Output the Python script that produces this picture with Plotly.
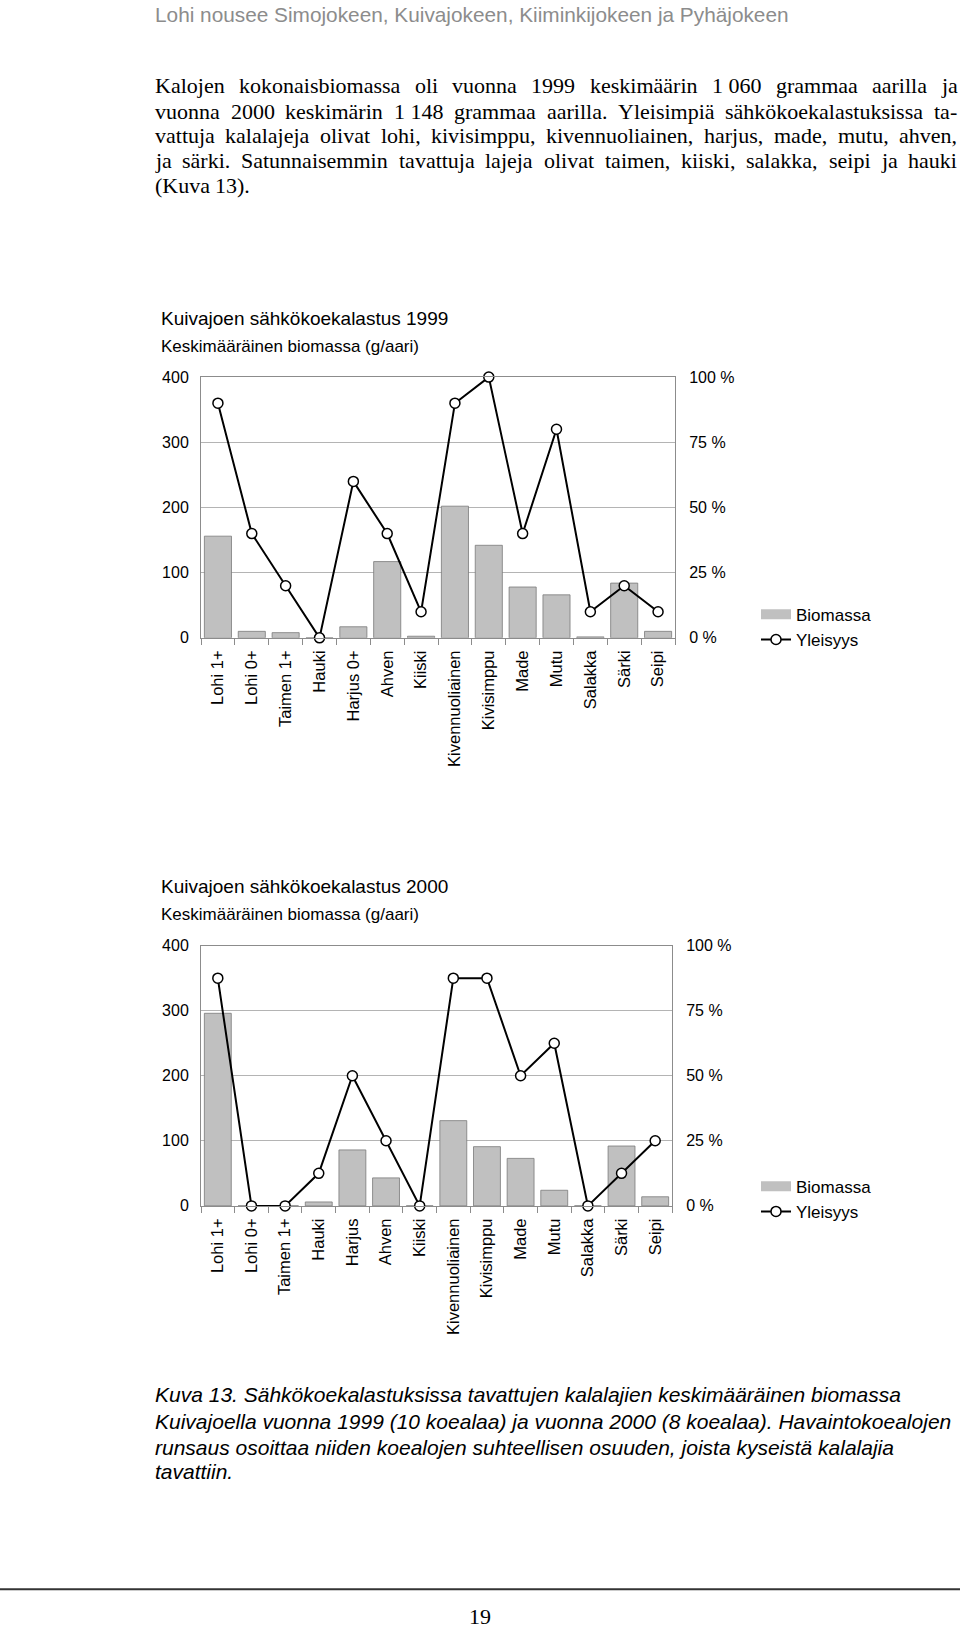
import plotly.graph_objects as go

W, H = 960, 1630

# ---------------- data ----------------
categories_1999 = ["Lohi 1+", "Lohi 0+", "Taimen 1+", "Hauki", "Harjus 0+", "Ahven", "Kiiski",
                   "Kivennuoliainen", "Kivisimppu", "Made", "Mutu", "Salakka", "Särki", "Seipi"]
biomassa_1999 = [156, 10, 8, 0, 17, 117, 2.5, 202, 142, 78, 66, 1.5, 84, 10]
yleisyys_1999 = [90, 40, 20, 0, 60, 40, 10, 90, 100, 40, 80, 10, 20, 10]

categories_2000 = ["Lohi 1+", "Lohi 0+", "Taimen 1+", "Hauki", "Harjus", "Ahven", "Kiiski",
                   "Kivennuoliainen", "Kivisimppu", "Made", "Mutu", "Salakka", "Särki", "Seipi"]
biomassa_2000 = [296, 0, 0, 6, 86, 43, 0, 131, 91, 73, 24, 0, 92, 14]
yleisyys_2000 = [87.5, 0, 0, 12.5, 50, 25, 0, 87.5, 87.5, 50, 62.5, 0, 12.5, 25]

left_ticks = [0, 100, 200, 300, 400]
right_ticks = [0, 25, 50, 75, 100]
right_tick_labels = ["0 %", "25 %", "50 %", "75 %", "100 %"]

header_text = "Lohi nousee Simojokeen, Kuivajokeen, Kiiminkijokeen ja Pyhäjokeen"
body_lines = [
    "Kalojen kokonaisbiomassa oli vuonna 1999 keskimäärin 1\u00a0060 grammaa aarilla ja",
    "vuonna 2000 keskimärin 1\u00a0148 grammaa aarilla. Yleisimpiä sähkökoekalastuksissa ta-",
    "vattuja kalalajeja olivat lohi, kivisimppu, kivennuoliainen, harjus, made, mutu, ahven,",
    "ja särki. Satunnaisemmin tavattuja lajeja olivat taimen, kiiski, salakka, seipi ja hauki",
    "(Kuva 13).",
]
caption_lines = [
    "Kuva 13. Sähkökoekalastuksissa tavattujen kalalajien keskimääräinen biomassa",
    "Kuivajoella vuonna 1999 (10 koealaa) ja vuonna 2000 (8 koealaa). Havaintokoealojen",
    "runsaus osoittaa niiden koealojen suhteellisen osuuden, joista kyseistä kalalajia",
    "tavattiin.",
]
titles = ["Kuivajoen sähkökoekalastus 1999", "Kuivajoen sähkökoekalastus 2000"]
subtitle = "Keskimääräinen biomassa (g/aari)"
page_number = "19"

# ---------------- style ----------------
SANS = "Liberation Sans, Arial, Helvetica, sans-serif"
SERIF = "Liberation Serif, Times New Roman, serif"
GRID = "#b4b4b4"
AXIS = "#8c8c8c"
BAR = "#c0c0c0"
BAR_EDGE = "#7a7a7a"


def px(x):
    return x / W


def py(y):
    return 1 - y / H


# Times metrics (1/1000 em) for justified body text
TNR = {' ': 250, '\u00a0': 250, '(': 333, ')': 333, ',': 250, '-': 333, '.': 250,
       'K': 722, 'Y': 722, 'S': 556,
       'a': 444, 'b': 500, 'c': 444, 'd': 500, 'e': 444, 'f': 333, 'g': 500, 'h': 500,
       'i': 278, 'j': 278, 'k': 500, 'l': 278, 'm': 778, 'n': 500, 'o': 500, 'p': 500,
       'q': 500, 'r': 333, 's': 389, 't': 278, 'u': 500, 'v': 500, 'w': 722, 'x': 500,
       'y': 500, 'z': 444, 'ä': 444, 'ö': 500}


def tw(s, size):
    return sum(TNR.get(c, 500) for c in s) * size / 1000.0


fig = go.Figure()

plots = [
    dict(cats=categories_1999, bio=biomassa_1999, yl=yleisyys_1999,
         xa="x", ya="y", ya2="y2", legend="legend",
         xdom=(201, 675), ytop=373, ybot=636.5),
    dict(cats=categories_2000, bio=biomassa_2000, yl=yleisyys_2000,
         xa="x2", ya="y3", ya2="y4", legend="legend2",
         xdom=(201, 672), ytop=947.5, ybot=1210.5),
]

for p in plots:
    fig.add_trace(go.Bar(
        x=p["cats"], y=p["bio"], xaxis=p["xa"], yaxis=p["ya"], name="Biomassa",
        legend=p["legend"], showlegend=False,
        marker=dict(color=BAR, line=dict(color=BAR_EDGE, width=0.8)),
    ))
    # legend-only entry giving the wide grey swatch of the original legend
    fig.add_trace(go.Scatter(
        x=[None], y=[None], xaxis=p["xa"], yaxis=p["ya"], name="Biomassa",
        legend=p["legend"], mode="lines", hoverinfo="skip",
        line=dict(color=BAR, width=11),
    ))
    fig.add_trace(go.Scatter(
        x=p["cats"], y=p["yl"], xaxis=p["xa"], yaxis=p["ya2"], name="Yleisyys",
        legend=p["legend"], mode="lines+markers", cliponaxis=False,
        line=dict(color="black", width=2),
        marker=dict(symbol="circle", size=10, color="white",
                    line=dict(color="black", width=1.5)),
    ))

layout = dict(
    width=W, height=H, margin=dict(l=0, r=0, t=0, b=0),
    paper_bgcolor="white", plot_bgcolor="white",
    bargap=0.2, showlegend=True,
    font=dict(family=SANS, color="black", size=16),
)

for i, p in enumerate(plots):
    xk = "xaxis" if i == 0 else "xaxis2"
    yk = "yaxis" if i == 0 else "yaxis3"
    y2k = "yaxis2" if i == 0 else "yaxis4"
    ydom = [py(p["ybot"]), py(p["ytop"])]
    n = len(p["cats"])
    layout[xk] = dict(
        domain=[px(p["xdom"][0]), px(p["xdom"][1])], anchor=p["ya"],
        type="category", range=[-0.5, n - 0.5], autorange=False,
        tickson="boundaries", ticks="outside", ticklen=6,
        tickcolor=AXIS, tickwidth=1, showline=True, linecolor=AXIS, linewidth=1,
        mirror=True, showgrid=False, tickangle=-90,
        tickfont=dict(family=SANS, size=16.5, color="black"),
        ticklabelstandoff=5, fixedrange=True,
    )
    layout[yk] = dict(
        domain=ydom, anchor=p["xa"], range=[0, 400], autorange=False,
        tickmode="array", tickvals=left_ticks,
        showgrid=True, gridcolor=GRID, gridwidth=1, zeroline=False,
        showline=True, linecolor=AXIS, linewidth=1, ticks="",
        tickfont=dict(family=SANS, size=16, color="black"),
        ticklabelstandoff=8,
    )
    layout[y2k] = dict(
        domain=ydom, anchor=p["xa"], overlaying=p["ya"], side="right",
        range=[0, 100], autorange=False, tickmode="array",
        tickvals=right_ticks, ticktext=right_tick_labels,
        showgrid=False, zeroline=False, showline=True, linecolor=AXIS,
        linewidth=1, ticks="",
        tickfont=dict(family=SANS, size=16, color="black"),
        ticklabelstandoff=10,
    )

layout["legend"] = dict(x=px(756), y=py(595), xanchor="left", yanchor="top",
                        font=dict(family=SANS, size=17, color="black"),
                        bgcolor="rgba(0,0,0,0)", tracegroupgap=0, itemwidth=30)
layout["legend2"] = dict(x=px(756), y=py(1173), xanchor="left", yanchor="top",
                         font=dict(family=SANS, size=17, color="black"),
                         bgcolor="rgba(0,0,0,0)", tracegroupgap=0, itemwidth=30)

fig.update_layout(**layout)

ann = []


def add_text(x, y, text, size, family, color="black", xanchor="left"):
    ann.append(dict(x=px(x), y=py(y), xref="paper", yref="paper", text=text,
                    showarrow=False, xanchor=xanchor, yanchor="middle",
                    font=dict(family=family, size=size, color=color)))


# header
add_text(153, 7, header_text, 20.8, SANS, color="#8c8c8c")

# justified body paragraph
BODY_SIZE = 22
x0, x1 = 153, 955
body_y = [78.5, 104.2, 129.2, 154.2, 179.7]
for li, line in enumerate(body_lines):
    words = line.split(" ")
    widths = [tw(wd, BODY_SIZE) for wd in words]
    if li < len(body_lines) - 1 and len(words) > 1:
        gap = (x1 - x0 - sum(widths)) / (len(words) - 1)
    else:
        gap = tw(" ", BODY_SIZE)
    xx = x0
    for wd, wdt in zip(words, widths):
        add_text(xx, body_y[li], wd, BODY_SIZE, SERIF)
        xx += wdt + gap

# chart titles
add_text(159, 313.5, titles[0], 19, SANS)
add_text(159, 342, subtitle, 17, SANS)
add_text(159, 887.5, titles[1], 19, SANS)
add_text(159, 916, subtitle, 17, SANS)

# caption
cap_y = [1401, 1428, 1455, 1479]
for cy, line in zip(cap_y, caption_lines):
    add_text(153, cy, "<i>" + line + "</i>", 21, SANS)

# page number
add_text(480, 1625, page_number, 22, SERIF, xanchor="center")

fig.update_layout(annotations=ann)
fig.add_shape(type="line", xref="paper", yref="paper", x0=0, x1=1,
              y0=py(1598), y1=py(1598), line=dict(color="#333333", width=2))

fig.write_html(
    "out.html",
    config={"displayModeBar": False},
    post_script="document.body.style.margin='0px';"
                "document.documentElement.style.overflow='hidden';"
                "document.body.style.overflow='hidden';",
)
